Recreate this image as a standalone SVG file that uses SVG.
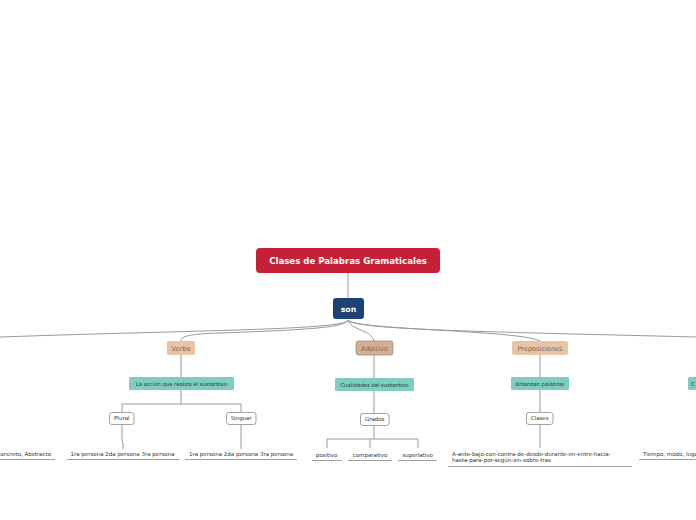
<svg xmlns="http://www.w3.org/2000/svg" width="696" height="520" viewBox="0 0 696 520">
<style>
.c{fill:none;stroke:#9a9a9a;stroke-width:1}
.u{fill:none;stroke:#a0a0a0;stroke-width:1}
.t{font-family:"DejaVu Sans",Verdana,sans-serif;text-anchor:middle}
.peach{fill:#e8c4a4}
.teal{fill:#7ecdc0}
.wt{fill:#ffffff;stroke:#8a8a8a;stroke-width:0.8}
.lf{font-family:"DejaVu Sans",Verdana,sans-serif;font-size:5.5px;fill:#333}
.tl{font-size:5.3px;fill:#1e3a36}
.pl{font-size:6.6px;fill:#7a6656}
.ws{font-size:5.5px;fill:#333}
</style>
<rect width="696" height="520" fill="#ffffff"/>
<g id="connectors">
<path class="c" d="M348,273 L348,298"/>
<path class="c" d="M348,320 C346,330 200,330 0,337"/>
<path class="c" d="M348,320 C346,328 300,330 220,333 C190,334 181,336 181,341"/>
<path class="c" d="M348,320 C350,330 372,330 374,341"/>
<path class="c" d="M348,320 C352,330 520,330 540,341"/>
<path class="c" d="M348,320 C352,330 500,332 696,337"/>
<path class="c" d="M181,355 L181,377"/>
<path class="c" d="M181,390 L181,404 M122,412 L122,404 L241,404 L241,412"/>
<path class="c" d="M122,424 L122,440 Q124,444 123,449"/>
<path class="c" d="M241,424 L241,449"/>
<path class="c" d="M374,355 L374,378 M374,391 L374,413"/>
<path class="c" d="M374,426 L374,439 M327,448 L327,439 L418,439 L418,448 M370,439 L370,448"/>
<path class="c" d="M540,355 L540,377 M540,390 L540,412 M540,424 L540,448"/>
</g>
<g id="title">
<rect x="256" y="248" width="184" height="25" rx="4" fill="#c61f36"/>
<text class="t" x="348" y="263.7" font-size="8.6" font-weight="bold" fill="#ffffff">Clases de Palabras Gramaticales</text>
</g>
<g id="son">
<rect x="333" y="298" width="31" height="21" rx="3" fill="#1b4175"/>
<text class="t" x="348.5" y="311.5" font-size="7.8" font-weight="bold" fill="#ffffff">son</text>
</g>
<g id="verbo">
<rect class="peach" x="167" y="341" width="28" height="14" rx="2"/>
<text class="t pl" x="181" y="350.5">Verbo</text>
</g>
<g id="adjetivo">
<rect x="356" y="341" width="37" height="14" rx="2.5" fill="#d3ae94" stroke="#a88a74" stroke-width="0.8"/>
<text class="t pl" x="374.5" y="350.5" fill="#6e5848">Adjetivo</text>
</g>
<g id="preposiciones">
<rect class="peach" x="512" y="341" width="56" height="14" rx="2"/>
<text class="t pl" x="540" y="350.5">Preposiciones</text>
</g>
<g id="accion">
<rect class="teal" x="129" y="377" width="105" height="13" rx="1.5"/>
<text class="t tl" x="181.5" y="385.6">La acción que  realiza el sustantivo</text>
</g>
<g id="cualidades">
<rect class="teal" x="335" y="378" width="79" height="13" rx="1.5"/>
<text class="t tl" x="374.5" y="386.6">Cualidades del sustantivo</text>
</g>
<g id="enlanzan">
<rect class="teal" x="511" y="377" width="58" height="13" rx="1.5"/>
<text class="t tl" x="540" y="385.6">Enlanzan palabras</text>
</g>
<g id="c-partial">
<rect class="teal" x="688" y="377" width="20" height="13" rx="1.5"/>
<text class="tl" x="691" y="385.6" font-family="DejaVu Sans,Verdana,sans-serif">C</text>
</g>
<g id="plural">
<rect class="wt" x="109.5" y="412.5" width="24.5" height="12" rx="2.5"/>
<text class="t ws" x="121.8" y="420.4">Plural</text>
</g>
<g id="singuar">
<rect class="wt" x="226.5" y="412.5" width="29.5" height="12" rx="2.5"/>
<text class="t ws" x="241.2" y="420.4">Singuar</text>
</g>
<g id="grados">
<rect class="wt" x="360.5" y="413.5" width="28.5" height="12" rx="2.5"/>
<text class="t ws" x="374.7" y="421.4">Grados</text>
</g>
<g id="clases">
<rect class="wt" x="526.5" y="412.5" width="26.5" height="12" rx="2.5"/>
<text class="t ws" x="539.7" y="420.4">Clases</text>
</g>
<g id="leaf-concreto">
<text class="lf" x="51" y="456" text-anchor="end">oncreto, Abstracto</text>
<path class="u" d="M0,459.5 L55,459.5"/>
</g>
<g id="leaf-plural">
<text class="lf" x="122.5" y="456" text-anchor="middle">1ra persona 2da persona 3ra persona</text>
<path class="u" d="M67,459.5 L179,459.5"/>
</g>
<g id="leaf-singuar">
<text class="lf" x="241" y="456" text-anchor="middle">1ra persona 2da persona 3ra persona</text>
<path class="u" d="M185,459.5 L297,459.5"/>
</g>
<g id="leaf-positivo">
<text class="lf" x="326.5" y="457" text-anchor="middle">positivo</text>
<path class="u" d="M312,460.5 L342,460.5"/>
</g>
<g id="leaf-comparativo">
<text class="lf" x="370" y="457" text-anchor="middle">comparativo</text>
<path class="u" d="M348,460.5 L392,460.5"/>
</g>
<g id="leaf-superlativo">
<text class="lf" x="417.5" y="457" text-anchor="middle">superlativo</text>
<path class="u" d="M398,460.5 L437,460.5"/>
</g>
<g id="leaf-prep">
<text class="lf" x="452" y="455.5">A-ante-bajo-con-contra-de-desde-durante-en-entre-hacia-</text>
<text class="lf" x="452" y="462">hasta-para-por-según-sin-sobre-tras</text>
<path class="u" d="M448,466.5 L632,466.5"/>
</g>
<g id="leaf-tiempo">
<text class="lf" x="643" y="456">Tiempo, modo, lugar</text>
<path class="u" d="M639,459.5 L696,459.5"/>
</g>
</svg>
